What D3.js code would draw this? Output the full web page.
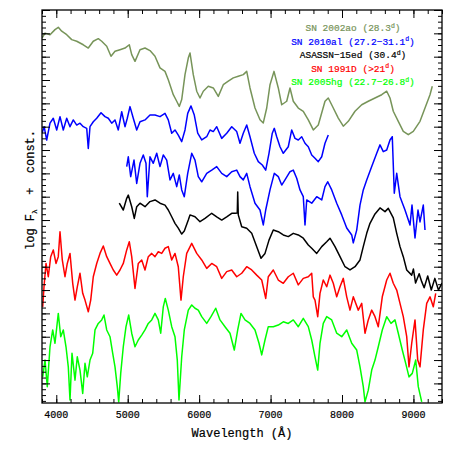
<!DOCTYPE html>
<html>
<head>
<meta charset="utf-8">
<script src="https://cdn.jsdelivr.net/npm/d3@7"></script>
<style>
  body { margin: 0; background: #fff; }
  svg text { font-family: "Liberation Mono", "DejaVu Sans Mono", monospace; stroke-width: 0.2px; paint-order: stroke; }
</style>
</head>
<body>
<svg width="452" height="452"></svg>
<script>
// spectra, wavelength (A) vs log F + const (arbitrary offsets)
const sn2002ao = [[3800,18.80],[3842,19.01],[3912,18.94],[3982,19.16],[4028,19.26],[4076,19.09],[4146,18.94],[4216,18.73],[4286,18.66],[4378,18.51],[4448,18.37],[4518,18.66],[4588,18.77],[4636,18.66],[4706,18.45],[4766,18.02],[4822,18.23],[4892,18.30],[4962,18.37],[5022,18.51],[5056,18.09],[5102,17.80],[5172,18.30],[5242,18.37],[5312,18.26],[5382,18.02],[5452,17.52],[5522,17.37],[5568,17.01],[5638,16.37],[5686,16.09],[5722,15.87],[5756,16.16],[5802,17.23],[5848,17.94],[5872,18.16],[5918,17.23],[5966,16.52],[6012,16.23],[6058,16.52],[6128,16.73],[6198,16.66],[6268,16.30],[6338,16.80],[6408,16.95],[6478,17.09],[6548,17.16],[6618,17.23],[6666,17.37],[6712,16.66],[6782,15.80],[6852,15.30],[6898,15.16],[6946,15.80],[6992,16.80],[7048,17.37],[7108,16.66],[7156,15.94],[7226,16.09],[7272,16.66],[7318,16.09],[7388,15.80],[7458,15.66],[7528,15.29],[7598,14.86],[7668,15.07],[7762,16.09],[7808,16.23],[7878,15.80],[7948,15.37],[8018,15.02],[8088,15.23],[8182,15.66],[8276,15.94],[8368,16.09],[8462,16.23],[8556,16.37],[8626,16.52],[8672,16.23],[8718,15.66],[8788,15.23],[8858,14.80],[8928,14.66],[8998,14.80],[9092,15.23],[9162,15.80],[9232,16.37],[9264,16.73]];

const sn2010alA = [[3800,14.72],[3830,15.00],[3866,14.43],[3912,15.15],[3958,15.36],[4006,14.86],[4052,15.43],[4098,14.86],[4146,15.36],[4192,15.00],[4238,15.29],[4286,15.07],[4332,15.15],[4378,15.00],[4426,14.93],[4448,14.07],[4472,15.00],[4518,15.21],[4566,15.36],[4626,15.60],[4682,15.43],[4728,15.36],[4776,15.15],[4822,15.29],[4868,14.86],[4916,15.64],[4962,15.00],[4994,15.36],[5032,15.86],[5078,15.36],[5126,14.86],[5172,15.21],[5242,15.29],[5312,15.50],[5382,15.50],[5452,15.43],[5522,15.57],[5568,15.29],[5616,14.72],[5662,14.86],[5708,14.64],[5756,14.36],[5802,14.86],[5840,15.57],[5886,15.89],[5932,15.50],[5980,14.72],[6036,14.43],[6106,14.57],[6152,14.86],[6198,14.79],[6246,15.00],[6316,14.50],[6386,14.72],[6456,15.00],[6526,14.79],[6572,14.29],[6618,14.72],[6666,15.07],[6712,14.57],[6772,13.86],[6828,13.50],[6884,13.36],[6932,13.14],[6978,13.86],[7024,14.72],[7052,14.93],[7086,14.57],[7132,14.14],[7178,13.86],[7248,14.14],[7296,14.86],[7342,14.50],[7388,14.43],[7436,14.57],[7482,14.29],[7528,14.14],[7576,13.79],[7622,13.65],[7668,13.50],[7716,13.71],[7762,14.29],[7808,14.64]];

const sn2010alB = [[4986,13.29],[5008,13.71],[5042,12.86],[5088,13.57],[5126,12.57],[5172,13.43],[5218,13.79],[5256,13.43],[5274,12.00],[5312,13.71],[5358,13.43],[5406,13.86],[5452,13.29],[5498,13.79],[5546,13.57],[5592,12.72],[5638,13.00],[5686,12.43],[5722,12.93],[5756,12.29],[5792,12.00],[5840,13.00],[5896,13.86],[5942,13.57],[5988,12.86],[6036,12.64],[6106,13.00],[6176,13.14],[6246,13.29],[6316,13.00],[6386,12.86],[6456,13.07],[6526,13.14],[6572,12.86],[6618,12.72],[6666,13.00],[6712,12.43],[6782,11.72],[6852,11.43],[6898,10.79],[6932,11.43],[6992,12.29],[7052,13.00],[7108,12.86],[7156,12.50],[7202,12.72],[7272,13.07],[7318,13.14],[7366,12.79],[7412,12.29],[7458,12.00],[7482,10.79],[7506,11.86],[7576,11.72],[7646,12.00],[7716,11.86],[7762,12.43],[7800,12.64],[7856,12.29],[7926,11.72],[7996,11.22],[8066,10.66],[8136,10.36],[8158,10.02],[8206,10.57],[8252,11.64],[8298,12.29],[8346,12.72],[8416,13.29],[8486,13.86],[8532,14.22],[8578,13.93],[8626,14.00],[8672,14.43],[8704,14.57],[8732,12.15],[8766,13.00],[8812,12.00],[8882,11.43],[8952,10.79],[8980,11.64],[9022,10.23],[9064,11.43],[9092,10.92],[9138,11.64],[9162,10.57]];

const asassn15ed = [[4882,11.72],[4938,11.43],[4986,11.93],[5008,12.07],[5056,11.57],[5092,11.07],[5126,11.57],[5172,11.72],[5242,11.57],[5312,11.79],[5382,11.86],[5452,11.72],[5522,11.64],[5568,11.43],[5616,11.14],[5662,10.86],[5708,10.65],[5756,10.40],[5792,10.53],[5848,11.00],[5872,11.22],[5942,11.14],[6012,10.93],[6082,11.07],[6176,11.29],[6246,11.14],[6316,11.00],[6386,11.14],[6456,11.29],[6502,11.29],[6534,11.30],[6540,12.20],[6548,11.22],[6596,10.71],[6666,10.65],[6736,10.43],[6806,9.86],[6866,9.36],[6922,9.57],[6978,10.14],[7038,10.57],[7108,10.50],[7178,10.36],[7248,10.29],[7318,10.43],[7388,10.36],[7458,10.22],[7528,9.93],[7576,9.79],[7646,9.57],[7716,9.86],[7786,10.07],[7832,10.22],[7902,9.86],[7972,9.43],[8042,9.00],[8112,8.86],[8182,9.00],[8252,9.29],[8298,9.86],[8346,10.43],[8392,10.86],[8462,11.26],[8532,11.52],[8602,11.36],[8648,11.50],[8718,11.09],[8766,10.43],[8812,9.86],[8858,9.43],[8906,8.86],[8976,8.64],[9000,8.90],[9030,8.30],[9080,8.70],[9116,8.36],[9150,8.10],[9200,8.60],[9250,8.00],[9300,8.50],[9350,8.00],[9400,8.30]];

const sn1991D = [[3810,7.28],[3828,8.14],[3856,9.14],[3888,8.57],[3922,9.43],[3958,9.72],[3996,9.14],[4028,9.43],[4052,10.50],[4084,9.29],[4122,8.57],[4154,9.14],[4192,9.57],[4230,8.29],[4262,7.57],[4294,8.14],[4332,8.72],[4370,7.86],[4402,7.57],[4448,7.07],[4482,7.57],[4518,8.57],[4566,9.14],[4612,9.57],[4658,9.89],[4706,9.43],[4752,9.14],[4798,8.86],[4846,8.64],[4892,8.86],[4938,9.14],[4986,9.72],[5022,10.07],[5056,9.43],[5102,8.07],[5148,9.14],[5196,9.29],[5242,8.86],[5288,9.43],[5336,9.57],[5382,9.43],[5428,9.64],[5476,9.57],[5522,9.79],[5568,9.86],[5616,9.29],[5662,9.57],[5708,9.00],[5746,7.57],[5778,8.57],[5826,9.57],[5896,10.00],[5966,9.57],[6036,9.29],[6106,8.93],[6176,9.14],[6246,9.00],[6316,8.50],[6386,8.79],[6456,8.86],[6526,8.57],[6596,8.72],[6666,9.00],[6736,8.86],[6806,8.64],[6876,8.43],[6932,7.64],[6968,8.57],[7038,8.86],[7108,8.43],[7178,8.29],[7248,8.57],[7318,8.72],[7388,8.22],[7458,8.50],[7528,8.57],[7576,8.72],[7598,7.71],[7622,7.57],[7660,6.86],[7692,7.86],[7738,8.43],[7786,8.14],[7832,8.64],[7878,8.29],[7926,7.71],[7972,8.14],[8018,8.50],[8066,7.71],[8112,7.14],[8158,7.71],[8228,7.14],[8276,7.43],[8322,6.15],[8368,6.72],[8416,7.14],[8462,6.86],[8508,6.43],[8564,7.71],[8626,8.43],[8672,8.72],[8718,8.29],[8766,8.00],[8812,7.43],[8858,6.86],[8906,6.00],[8938,4.71],[8976,5.72],[9022,6.72],[9060,5.00],[9092,4.71],[9138,6.29],[9186,7.43],[9232,7.71],[9278,7.28],[9312,7.86]];

const sn2005hg = [[3810,4.28],[3842,5.00],[3874,3.86],[3912,5.57],[3950,6.29],[3982,5.72],[4028,7.00],[4062,6.00],[4098,6.29],[4136,5.57],[4168,4.71],[4192,3.29],[4220,5.29],[4262,4.14],[4294,5.14],[4332,4.57],[4370,3.57],[4402,4.86],[4434,4.28],[4472,5.00],[4510,5.29],[4542,6.29],[4588,6.57],[4636,6.72],[4668,6.93],[4706,6.29],[4752,6.00],[4790,5.29],[4822,4.71],[4854,3.86],[4874,3.21],[4902,4.43],[4938,5.57],[4976,6.43],[5014,6.93],[5056,6.15],[5102,5.57],[5148,5.86],[5196,6.07],[5242,6.29],[5288,6.57],[5336,6.72],[5382,7.00],[5428,6.72],[5462,6.15],[5498,7.28],[5526,7.64],[5568,7.14],[5616,6.43],[5662,6.00],[5694,5.00],[5718,3.29],[5756,5.14],[5792,6.29],[5848,7.14],[5896,7.36],[5942,7.22],[5988,7.14],[6036,6.86],[6106,6.57],[6166,6.86],[6232,7.22],[6292,6.72],[6362,6.43],[6432,6.15],[6492,5.43],[6540,6.29],[6586,7.00],[6642,6.72],[6712,6.57],[6782,6.29],[6838,5.72],[6876,5.22],[6922,5.86],[6968,6.43],[7038,6.43],[7108,6.50],[7178,6.64],[7248,6.57],[7318,6.72],[7388,6.43],[7458,6.79],[7528,6.43],[7576,5.86],[7622,5.14],[7660,4.57],[7692,5.72],[7738,6.57],[7786,6.86],[7856,6.72],[7926,6.15],[7996,6.00],[8066,6.29],[8136,5.72],[8206,5.43],[8252,4.71],[8298,3.86],[8322,3.21],[8368,3.71],[8416,4.57],[8462,5.00],[8508,5.57],[8564,6.29],[8626,6.86],[8686,6.57],[8742,6.72],[8788,6.15],[8844,5.43],[8892,4.86],[8938,4.28],[8984,4.43],[9032,5.00],[9068,3.86],[9116,3.21]];

const spectra = [
  { data: sn2002ao, color: "#779459" },
  { data: sn2010alA, color: "#0000ff" },
  { data: sn2010alB, color: "#0000ff" },
  { data: asassn15ed, color: "#000000" },
  { data: sn1991D, color: "#ff0000" },
  { data: sn2005hg, color: "#00ff00" }
];

const legendNames = ["SN 2002ao (28.3", "SN 2010al (27.2\u221231.1", "ASASSN\u221215ed (30.4", "SN 1991D (>21", "SN 2005hg (22.7\u221226.8"];
const legendColors = ["#779459", "#0000ff", "#000000", "#ff0000", "#00ff00"];

const xTicks = [4000, 5000, 6000, 7000, 8000, 9000];

const svg = d3.select("svg");
const margin = { top: 10, right: 10, bottom: 49, left: 42 };
const width = 452 - margin.left - margin.right;
const height = 452 - margin.top - margin.bottom;

const x = d3.scaleLinear().domain([3800, 9400]).range([0, width]);
const y = d3.scaleLinear().domain([3.16, 20]).range([height, 0]);

const g = svg.append("g").attr("transform", `translate(${margin.left},${margin.top})`);

g.append("clipPath").attr("id", "clip")
  .append("rect").attr("width", width).attr("height", height);

const line = d3.line().x(d => x(d[0])).y(d => y(d[1]));

// spectra
g.append("g").attr("clip-path", "url(#clip)")
  .selectAll("path")
  .data(spectra)
  .enter().append("path")
  .attr("d", d => line(d.data))
  .attr("fill", "none")
  .attr("stroke", d => d.color)
  .attr("stroke-width", 1.5)
  .attr("stroke-linejoin", "round");

// ticks, all four sides
const xMinor = d3.range(3800, 9401, 200);
const yMinor = d3.range(3.25, 20.01, 0.25);
function addAxis(axis, tr) {
  g.append("g").attr("transform", tr).call(axis)
    .call(a => a.select(".domain").remove())
    .call(a => a.selectAll("line").attr("stroke", "#000").attr("stroke-width", 1));
}
addAxis(d3.axisBottom(x).tickValues(xMinor).tickSize(-4).tickFormat(""), `translate(0,${height})`);
addAxis(d3.axisBottom(x).tickValues(xTicks).tickSize(-8).tickFormat(""), `translate(0,${height})`);
addAxis(d3.axisTop(x).tickValues(xMinor).tickSize(-4).tickFormat(""), "translate(0,0)");
addAxis(d3.axisTop(x).tickValues(xTicks).tickSize(-8).tickFormat(""), "translate(0,0)");
addAxis(d3.axisLeft(y).tickValues(yMinor).tickSize(-4).tickFormat(""), "translate(0,0)");
addAxis(d3.axisLeft(y).tickValues(d3.range(4, 21, 1)).tickSize(-8).tickFormat(""), "translate(0,0)");
addAxis(d3.axisRight(y).tickValues(yMinor).tickSize(-4).tickFormat(""), `translate(${width},0)`);
addAxis(d3.axisRight(y).tickValues(d3.range(4, 21, 1)).tickSize(-8).tickFormat(""), `translate(${width},0)`);

// tick labels
g.selectAll(".xlab")
  .data(xTicks)
  .enter().append("text")
  .attr("x", d => x(d))
  .attr("y", height + 15)
  .attr("text-anchor", "middle")
  .attr("font-size", "10px")
  .attr("stroke", "#000")
  .text(d => d);

// frame
g.append("rect")
  .attr("width", width).attr("height", height)
  .attr("fill", "none").attr("stroke", "#000").attr("stroke-width", 1.3);

// axis titles
g.append("text")
  .attr("x", width / 2)
  .attr("y", height + 34)
  .attr("text-anchor", "middle")
  .attr("font-size", "12px")
  .attr("stroke", "#000")
  .text("Wavelength (\u00c5)");

const yl = svg.append("text")
  .attr("transform", "translate(34,190) rotate(-90)")
  .attr("text-anchor", "middle")
  .attr("font-size", "12px")
  .attr("stroke", "#000");
yl.append("tspan").text("log F");
yl.append("tspan").attr("dy", 3).attr("font-size", "8px").text("\u03bb");
yl.append("tspan").attr("dy", -3).text("  +  const.").attr("xml:space", "preserve");

// legend
legendNames.forEach((name, i) => {
  const t = g.append("text")
    .attr("x", 311)
    .attr("y", 21 + i * 13.5)
    .attr("text-anchor", "middle")
    .attr("font-size", "9.5px")
    .attr("fill", legendColors[i])
    .attr("stroke", legendColors[i]);
  t.append("tspan").text(name);
  t.append("tspan").attr("dy", -3.5).attr("font-size", "6.5px").text("d");
  t.append("tspan").attr("dy", 3.5).text(")");
});
</script>
</body>
</html>
